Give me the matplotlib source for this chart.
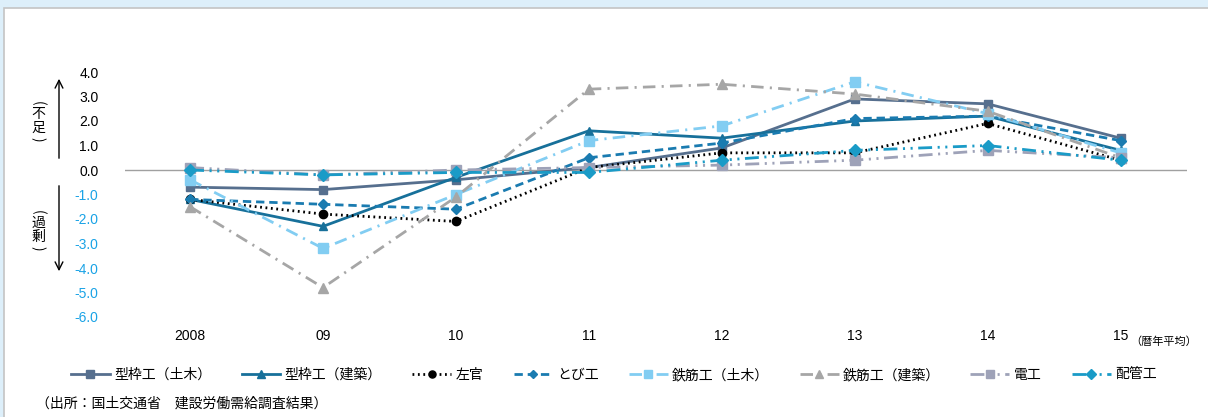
import numpy as np
import matplotlib.pyplot as plt
from matplotlib.patches import Rectangle

plt.rcParams['font.family'] = ['Liberation Sans', 'Noto Sans CJK JP']
plt.rcParams['lines.scale_dashes'] = False

# x categories (year, last one is calendar-year average)
years = ["2008", "09", "10", "11", "12", "13", "14", "15"]

# labour shortage / surplus rate (%) per trade
kata_doboku = [-0.7, -0.8, -0.4, 0.1, 0.9, 2.9, 2.7, 1.3]
kata_kenchiku = [-1.2, -2.3, -0.3, 1.6, 1.3, 2.0, 2.2, 0.8]
sakan = [-1.2, -1.8, -2.1, 0.1, 0.7, 0.7, 1.9, 0.4]
tobi = [-1.2, -1.4, -1.6, 0.5, 1.1, 2.1, 2.2, 1.2]
tekkin_doboku = [-0.4, -3.2, -1.0, 1.2, 1.8, 3.6, 2.3, 0.7]
tekkin_kenchiku = [-1.5, -4.8, -1.1, 3.3, 3.5, 3.1, 2.4, 0.5]
denko = [0.1, -0.2, 0.0, 0.1, 0.2, 0.4, 0.8, 0.5]
haikan = [0.0, -0.2, -0.1, -0.1, 0.4, 0.8, 1.0, 0.4]

names = ["型枠工（土木）", "型枠工（建築）", "左官", "とび工",
         "鉄筋工（土木）", "鉄筋工（建築）", "電工", "配管工"]
yticks = [4.0, 3.0, 2.0, 1.0, 0.0, -1.0, -2.0, -3.0, -4.0, -5.0, -6.0]

W, H = 1208, 417
fig = plt.figure(figsize=(W / 100, H / 100), dpi=100)

# page frame: light blue strip top/left, gray border, white body
fig.patches.append(Rectangle((0, 0), 1, 1, transform=fig.transFigure,
                             facecolor='#DDEFFA', edgecolor='none', zorder=-3))
fig.patches.append(Rectangle((4 / W, -0.01), 1.01, 1 - 8 / H + 0.01,
                             transform=fig.transFigure, facecolor='white',
                             edgecolor='#C4C4C4', linewidth=1.2, zorder=-2))

ax = fig.add_axes([125 / W, 1 - 317 / H, (1187 - 125) / W, (317 - 72) / H])
ax.set_facecolor('none')

x = np.arange(len(years))
lw = 2.0
ax.plot(x, kata_doboku, color='#566F8E', lw=lw, marker='s', ms=6, label=names[0])
ax.plot(x, kata_kenchiku, color='#17709A', lw=lw, marker='^', ms=6, label=names[1])
ax.plot(x, sakan, color='black', lw=2.0, dashes=(1.3, 2.6), marker='o', ms=6,
        label=names[2])
ax.plot(x, tobi, color='#1A7BB0', lw=lw, dashes=(6, 3.5), marker='D', ms=5,
        label=names[3])
ax.plot(x, tekkin_doboku, color='#82CDF2', lw=lw, dashes=(9, 4.5, 1.5, 4.5),
        marker='s', ms=7, label=names[4])
ax.plot(x, tekkin_kenchiku, color='#A6A6A6', lw=lw, dashes=(9, 4.5, 1.5, 4.5),
        marker='^', ms=7, label=names[5])
ax.plot(x, denko, color='#9EA2B8', lw=lw, dashes=(10, 4, 1.5, 4, 1.5, 4),
        marker='s', ms=7, label=names[6])
ax.plot(x, haikan, color='#1A9BC7', lw=lw, dashes=(10, 4, 1.5, 4, 1.5, 4),
        marker='D', ms=6, label=names[7])

ax.axhline(0, color='#A0A0A0', lw=1.0, zorder=0)

ax.set_xlim(-0.49, 7.5)
ax.set_ylim(-6.0, 4.0)
for s in ax.spines.values():
    s.set_visible(False)
ax.set_xticks(x)
ax.set_xticklabels(years, fontsize=10)
ax.set_yticks(yticks)
ax.set_yticklabels([f"{v:.1f}" for v in yticks], fontsize=10)
ax.tick_params(axis='both', length=0)
ax.tick_params(axis='y', pad=19)
ax.tick_params(axis='x', pad=9)
for lab, v in zip(ax.get_yticklabels(), yticks):
    lab.set_color('#1AA3E6' if v < 0 else 'black')

ax.annotate("（暦年平均）", xy=(7, 0), xycoords=('data', 'axes fraction'),
            xytext=(7, -18), textcoords='offset points', fontsize=8,
            va='center', ha='left', annotation_clip=False)


def fx(px):
    return px / W


def fy(py):
    return 1 - py / H


# shortage / surplus arrows and vertical labels
ax.annotate("", xy=(fx(59), fy(76)), xycoords='figure fraction',
            xytext=(fx(59), fy(161)), textcoords='figure fraction',
            arrowprops=dict(arrowstyle='->', lw=1.0, color='black',
                            mutation_scale=14))
ax.annotate("", xy=(fx(59), fy(274)), xycoords='figure fraction',
            xytext=(fx(59), fy(183)), textcoords='figure fraction',
            arrowprops=dict(arrowstyle='->', lw=1.0, color='black',
                            mutation_scale=14))

jp = ['Noto Sans CJK JP']
for chars, top in [("不足", 103), ("過剰", 212)]:
    fig.text(fx(38), fy(top), "(", fontsize=10, rotation=-90,
             ha='center', va='center', family=jp)
    fig.text(fx(38), fy(top + 11), chars[0], fontsize=10,
             ha='center', va='center', family=jp)
    fig.text(fx(38), fy(top + 25), chars[1], fontsize=10,
             ha='center', va='center', family=jp)
    fig.text(fx(38), fy(top + 36), ")", fontsize=10, rotation=-90,
             ha='center', va='center', family=jp)

fig.legend(loc='center', bbox_to_anchor=(0.508, fy(375)), ncol=8, frameon=False,
           handlelength=2.8, handletextpad=0.3, columnspacing=2.2,
           markerscale=0.85, prop={'family': jp, 'size': 10})

fig.text(fx(36), fy(404), "（出所：国土交通省　建設労働需給調査結果）", fontsize=10,
         ha='left', va='center', family=jp)

fig.savefig('out.png', dpi=100)
